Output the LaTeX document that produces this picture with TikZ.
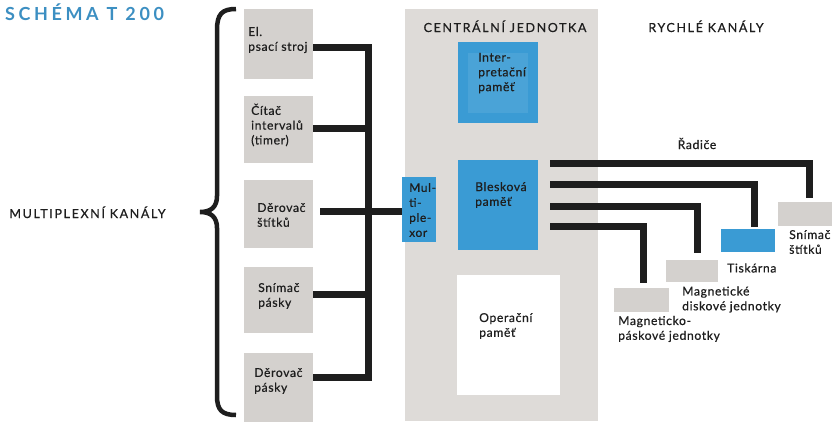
\documentclass[tikz,border=0pt]{standalone}
\usepackage{fontspec}
\setmainfont{Lato}[LetterSpace=5, FakeBold=0.6]
\newfontfamily\capsfont{Lato}[LetterSpace=13, FakeBold=0.6]
\newfontfamily\titlefont{Lato}[LetterSpace=20]
\definecolor{boxgray}{HTML}{D4D1CE}
\definecolor{cugray}{HTML}{DEDBD8}
\definecolor{cblue}{HTML}{3A9BD4}
\definecolor{tblue}{HTML}{3C8FC2}
\definecolor{ink}{HTML}{1E1E1E}
\begin{document}
\begin{tikzpicture}[x=1pt,y=-1pt,
  graybox/.style={fill=boxgray, draw=none, inner sep=0, minimum width=#1},
  graybox/.default=69pt,
  bluebox/.style={fill=cblue, draw=none, inner sep=0},
  txt/.style={align=left, inner sep=0, anchor=west, text=ink, font=\fontsize{12.2}{14.8}\selectfont},
  capstxt/.style={inner sep=0, anchor=base, text=ink, font=\capsfont\fontsize{12.5}{14}\selectfont},
  bus/.style={line width=7pt, draw=ink}]
\useasboundingbox (0,0) rectangle (833,421);
\fill[white] (0,0) rectangle (833,421);

% title
\node[inner sep=0, anchor=base west, text=tblue, font=\titlefont\bfseries\fontsize{18}{20}\selectfont] (title) at (5,20) {SCHÉMA T 200};

% brace and left label
\draw[ink, line width=4.5pt] (236,9) .. controls (222,9) and (217,14) .. (217,30) -- (217,196) .. controls (217,207) and (211,212) .. (200,212) .. controls (211,212) and (217,217) .. (217,228) -- (217,396) .. controls (217,410) and (222,415) .. (236,415);
\node[capstxt] (mk) at (87.5,218) {MULTIPLEXNÍ KANÁLY};

% left boxes
\node[graybox, minimum height=70pt] (b1) at (278.5,44) {};
\node[graybox, minimum height=67pt] (b2) at (278.5,129.5) {};
\node[graybox, minimum height=68pt] (b3) at (278.5,214) {};
\node[graybox, minimum height=66pt] (b4) at (278.5,300) {};
\node[graybox, minimum height=69pt] (b5) at (278.5,387) {};
\node[txt] (t1) at (248,40) {El.\\psací stroj};
\node[txt] (t2) at (251,125) {Čítač\\intervalů\\(timer)};
\node[txt] (t3) at (257,215) {Děrovač\\štítků};
\node[txt] (t4) at (258,296) {Snímač\\pásky};
\node[txt] (t5) at (254,381) {Děrovač\\pásky};

% central unit
\node[fill=cugray, draw=none, inner sep=0, minimum width=193pt, minimum height=412pt] (cu) at (501.5,215) {};
\node[capstxt] (cut) at (505,32) {CENTRÁLNÍ JEDNOTKA};
\node[bluebox, minimum width=80pt, minimum height=81pt] (ip) at (498,82.5) {};
\node[fill=cblue!92!white, draw=none, inner sep=0, minimum width=60pt, minimum height=60pt] (ipin) at (498,82.5) {};
\node[txt] (ipt) at (478,73) {Inter-\\pretační\\paměť};
\node[bluebox, minimum width=80pt, minimum height=90pt] (bp) at (498,205) {};
\node[txt] (bpt) at (475,195) {Blesková\\paměť};
\node[fill=white, draw=none, inner sep=0, minimum width=103pt, minimum height=120pt] (op) at (508.5,335) {};
\node[txt] (opt) at (479,326) {Operační\\paměť};

% multiplex bus
\coordinate (busx) at (368,0);
\coordinate (p1) at ([yshift=-3pt]b1.east);
\coordinate (p2) at ([yshift=1.5pt]b2.east);
\coordinate (p3) at ([xshift=7pt,yshift=3pt]b3.east);
\coordinate (p4) at ([yshift=5.5pt]b4.east);
\coordinate (p5) at ([yshift=10pt]b5.east);
\draw[bus] (p1) -- (p1 -| busx) -- (p5 -| busx) -- (p5);
\draw[bus] (p2) -- (p2 -| busx);
\draw[bus] (p4) -- (p4 -| busx);

% multiplexor
\node[bluebox, minimum width=34pt, minimum height=65pt] (mux) at (419,209.5) {};
\draw[bus] (p3) -- (p3 -| mux.west);
\node[txt, font=\fontsize{12}{15}\selectfont] (muxt) at (409,210) {Mul-\\ti-\\ple-\\xor};

% fast channels
\node[capstxt] (rk) at (706,32) {RYCHLÉ KANÁLY};
\node[txt, anchor=base] (rad) at (697,149) {Řadiče};
\node[graybox=54pt, minimum height=24pt] (d1) at (805,214) {};
\node[bluebox, minimum width=54pt, minimum height=23pt] (d2) at (748,240.5) {};
\node[graybox=52pt, minimum height=22pt] (d3) at (692,271) {};
\node[graybox=55pt, minimum height=24pt] (d4) at (641.5,300) {};
\coordinate (r1) at ([xshift=12pt,yshift=42pt]bp.east);
\coordinate (r2) at ([xshift=12pt,yshift=21pt]bp.east);
\coordinate (r3) at ([xshift=12pt,yshift=-1pt]bp.east);
\coordinate (r4) at ([xshift=12pt,yshift=-21pt]bp.east);
\draw[bus] (r1) -| ([xshift=4pt,yshift=4pt]d1.north);
\draw[bus] (r2) -| ([xshift=6pt,yshift=2pt]d2.north);
\draw[bus] (r3) -| ([xshift=5pt,yshift=7pt]d3.north);
\draw[bus] (r4) -| ([xshift=2pt,yshift=5pt]d4.north);
\node[txt] (l1) at (789,242) {Snímač\\štítků};
\node[txt] (l2) at (727,268) {Tiskárna};
\node[txt] (l3) at (682,299.5) {Magnetické\\diskové jednotky};
\node[txt] (l4) at (618,329) {Magneticko-\\páskové jednotky};
\end{tikzpicture}
\end{document}
